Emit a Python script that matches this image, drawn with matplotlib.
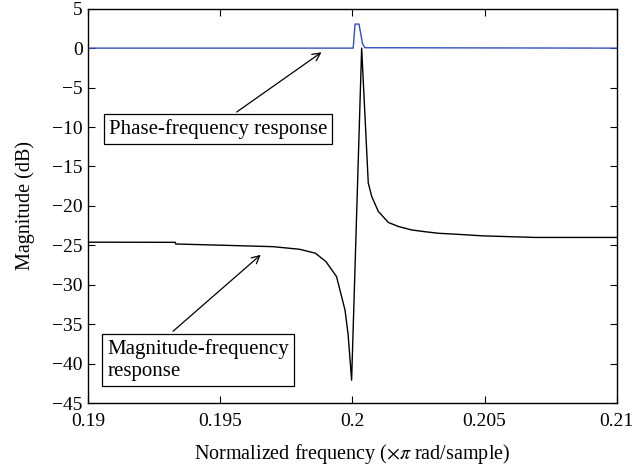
import matplotlib
matplotlib.use("Agg")
import matplotlib.pyplot as plt

plt.rcParams['font.family'] = ['Liberation Serif', 'DejaVu Serif']
plt.rcParams['mathtext.fontset'] = 'stix'

# Magnitude-frequency response (black)
freq_mag = [0.19, 0.1933, 0.19331, 0.1952, 0.1970, 0.1980, 0.1986, 0.1990,
            0.1994, 0.19972, 0.19984, 0.19997, 0.20035, 0.2006, 0.20073,
            0.20098, 0.20136, 0.20173, 0.20224, 0.20274, 0.20325, 0.20396,
            0.20494, 0.20691, 0.21]
mag_db = [-24.6, -24.62, -24.83, -25.0, -25.17, -25.5, -26.0, -27.07,
          -28.97, -33.2, -36.4, -42.1, 0.0, -17.1, -18.8,
          -20.7, -22.1, -22.6, -23.05, -23.27, -23.47, -23.6,
          -23.8, -24.0, -24.0]

# Phase-frequency response (blue)
freq_ph = [0.19, 0.20003, 0.2001, 0.20025, 0.20038, 0.20047, 0.21]
phase = [0.0, 0.0, 3.05, 3.05, 0.6, 0.05, 0.0]

xticks = [0.19, 0.195, 0.2, 0.205, 0.21]
xtick_labels = ['0.19', '0.195', '0.2', '0.205', '0.21']
yticks = [5, 0, -5, -10, -15, -20, -25, -30, -35, -40, -45]

fig = plt.figure(figsize=(6.39, 4.72), dpi=100)
ax = fig.add_axes([0.138, 0.146, 0.827, 0.8356])

ax.plot(freq_ph, phase, color='#3050c0', lw=1.0)
ax.plot(freq_mag, mag_db, color='black', lw=1.0)

ax.set_xlim(0.19, 0.21)
ax.set_ylim(-45, 5)
ax.set_xticks(xticks)
ax.set_xticklabels(xtick_labels)
ax.set_yticks(yticks)
ax.tick_params(direction='in', top=True, right=True, labelsize=14, length=5, width=0.8)
ax.tick_params(axis='x', pad=7)
ax.tick_params(axis='y', pad=4)
for s in ax.spines.values():
    s.set_linewidth(1.0)

ax.set_xlabel(r'Normalized frequency ($\times\pi$ rad/sample)', fontsize=14.5, labelpad=9)
ax.set_ylabel('Magnitude (dB)', fontsize=14.5, labelpad=12)

bbox = dict(boxstyle='square,pad=0.25', fc='white', ec='black', lw=0.9)
arrow = dict(arrowstyle='->', color='black', lw=0.9, shrinkA=0, shrinkB=0,
             mutation_scale=14)

ax.annotate('', xy=(0.19883, -0.53), xytext=(0.19562, -8.1), arrowprops=arrow)
ax.text(0.19491, -10.25, 'Phase-frequency response', fontsize=15,
        ha='center', va='center', bbox=bbox)

ax.annotate('', xy=(0.19653, -26.2), xytext=(0.19321, -35.9), arrowprops=arrow)
ax.text(0.19072, -39.5, 'Magnitude-frequency\nresponse', fontsize=15,
        ha='left', va='center', linespacing=1.2, bbox=bbox)

fig.savefig('out.png', dpi=100)
